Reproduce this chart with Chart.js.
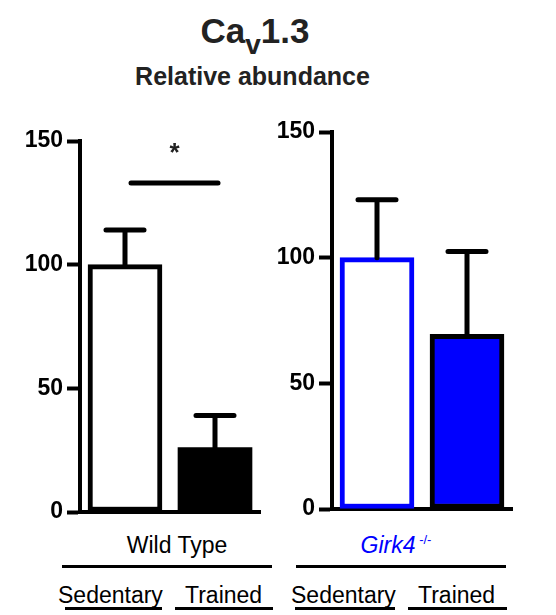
<!DOCTYPE html>
<html><head><meta charset="utf-8">
<script src="https://cdn.jsdelivr.net/npm/chart.js@4/dist/chart.umd.min.js"></script>
<style>
html,body{margin:0;padding:0;background:#fff;}
body{width:556px;height:615px;position:relative;overflow:hidden;font-family:"Liberation Sans",Arial,Helvetica,sans-serif;}
canvas{position:absolute;}
.t{position:absolute;white-space:nowrap;line-height:1;}
.ln{position:absolute;background:#000;height:3px;}
</style></head><body>
<div class="t" style="left:0;width:510px;text-align:center;top:13px;font-size:35px;font-weight:bold;color:#222">Ca<span style="font-size:28px;position:relative;top:11px">v</span>1.3</div>
<div class="t" style="left:0;width:505px;text-align:center;top:64px;font-size:25px;font-weight:bold;color:#222">Relative abundance</div>

<canvas id="c1" width="280" height="530" style="left:0;top:0"></canvas>
<canvas id="c2" width="286" height="530" style="left:270px;top:0"></canvas>

<div class="t" style="left:77px;width:200px;text-align:center;top:534px;font-size:23px;color:#000">Wild Type</div>
<div class="t" style="left:296px;width:200px;text-align:center;top:534px;font-size:23px;color:#0000ff"><i>Girk4</i><span style="font-size:13px;position:relative;top:-9px"> -/-</span></div>
<div class="ln" style="left:62px;width:210px;top:565px"></div>
<div class="ln" style="left:296px;width:210px;top:565px"></div>

<div class="t" style="left:58px;top:584px;font-size:23px;color:#000">Sedentary</div>
<div class="t" style="left:185px;top:584px;font-size:23px;color:#000">Trained</div>
<div class="t" style="left:291px;top:584px;font-size:23px;color:#000">Sedentary</div>
<div class="t" style="left:418px;top:584px;font-size:23px;color:#000">Trained</div>
<div class="ln" style="left:65px;width:97px;top:607px"></div>
<div class="ln" style="left:175px;width:98px;top:607px"></div>
<div class="ln" style="left:295px;width:100px;top:607px"></div>
<div class="ln" style="left:408px;width:99px;top:607px"></div>

<script>
// ---- data ----
const categories = ["Sedentary", "Trained"];
const wtMeans = [100, 26];
const wtErrors = [14, 13];
const girkMeans = [100, 69.5];
const girkErrors = [23, 33];
const yTicks = [0, 50, 100, 150];
const wtSigLevel = 133;
const wtSigLabel = "*";

const wtFill = ["#ffffff", "#000000"];
const wtBorder = ["#000000", "#000000"];
const girkFill = ["#ffffff", "#0000ff"];
const girkBorder = ["#0000ff", "#000000"];

const errorBarPlugin = {
  id: 'errorBars',
  afterDatasetsDraw(chart) {
    const ctx = chart.ctx;
    const y = chart.scales.y;
    chart.data.datasets.forEach((ds, di) => {
      const meta = chart.getDatasetMeta(di);
      (ds.errorValues || []).forEach((e, i) => {
        const bar = meta.data[i];
        const x = bar.x;
        const y0 = y.getPixelForValue(ds.data[i]);
        const y1 = y.getPixelForValue(ds.data[i] + e);
        ctx.save();
        ctx.strokeStyle = '#000';
        ctx.lineWidth = 5;
        ctx.lineCap = 'round';
        ctx.beginPath();
        ctx.moveTo(x, y0);
        ctx.lineTo(x, y1);
        ctx.moveTo(x - 19, y1);
        ctx.lineTo(x + 19, y1);
        ctx.stroke();
        ctx.restore();
      });
    });
    const sig = chart.options.plugins.sigBar;
    if (sig && sig.level != null) {
      const meta = chart.getDatasetMeta(0);
      const xa = meta.data[0].x + 6, xb = meta.data[1].x + 3;
      const ys = y.getPixelForValue(sig.level);
      ctx.save();
      ctx.strokeStyle = '#000';
      ctx.lineWidth = 5;
      ctx.lineCap = 'round';
      ctx.beginPath();
      ctx.moveTo(xa, ys);
      ctx.lineTo(xb, ys);
      ctx.stroke();
      ctx.fillStyle = '#222';
      ctx.font = 'bold 26px "Liberation Sans", Arial, sans-serif';
      ctx.textAlign = 'center';
      ctx.textBaseline = 'alphabetic';
      ctx.fillText(sig.label, (xa + xb) / 2, ys - 22);
      ctx.restore();
    }
  }
};

function makeChart(id, means, errs, fills, borders, yWidth, pad, sig) {
  return new Chart(document.getElementById(id), {
    type: 'bar',
    data: {
      labels: categories,
      datasets: [{
        data: means,
        errorValues: errs,
        backgroundColor: fills,
        borderColor: borders,
        borderWidth: (c) => (fills[c.dataIndex] === borders[c.dataIndex] ? 0 : 5),
        borderSkipped: false,
        barThickness: 74
      }]
    },
    options: {
      responsive: false,
      animation: false,
      events: [],
      layout: { padding: pad },
      plugins: {
        legend: { display: false },
        tooltip: { enabled: false },
        title: { display: false },
        sigBar: sig
      },
      scales: {
        x: {
          afterFit(s) { s.height = 0; },
          ticks: { display: false },
          grid: { display: false, drawTicks: false },
          border: { display: true, color: '#000', width: 4 }
        },
        y: {
          min: 0, max: 150,
          afterFit(s) { s.width = yWidth; },
          afterBuildTicks(s) { s.ticks = yTicks.map(v => ({ value: v })); },
          ticks: {
            color: '#000',
            padding: 4,
            font: { family: '"Liberation Sans", Arial, sans-serif', size: 23, weight: 'bold' }
          },
          grid: { drawOnChartArea: false, drawTicks: true, tickLength: 13, tickWidth: 4, tickColor: '#000' },
          border: { display: true, color: '#000', width: 4 }
        }
      }
    },
    plugins: [errorBarPlugin]
  });
}

makeChart('c1', wtMeans, wtErrors, wtFill, wtBorder, 80,
  { top: 141, bottom: 18, left: 0, right: 20 },
  { level: wtSigLevel, label: wtSigLabel });
makeChart('c2', girkMeans, girkErrors, girkFill, girkBorder, 62,
  { top: 132, bottom: 21, left: 0, right: 44 },
  null);
</script>
</body></html>
